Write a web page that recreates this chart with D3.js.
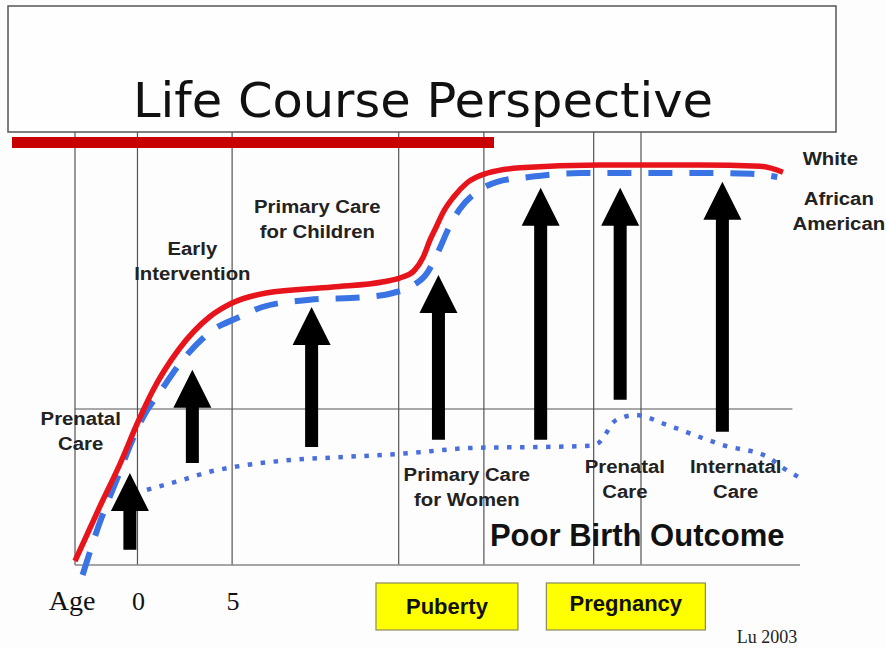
<!DOCTYPE html>
<html>
<head>
<meta charset="utf-8">
<script src="https://cdn.jsdelivr.net/npm/d3@7"></script>
<style>
  html, body { margin: 0; padding: 0; background: #fdfdfd; }
  svg { display: block; }
</style>
</head>
<body>
<div id="chart"></div>
<script>
// Curvas: edad (x) contra nivel de salud (y, 0..100)
const whiteAges = [-3.3, -2, -0.9, 0, 0.8, 2.2, 3.8, 5, 6.8, 10.3, 13, 13.9, 14.6, 15.1, 15.45, 15.8, 16.15, 16.7, 17.4, 18.5, 20.2, 24.4, 29.7, 32.9, 34.1];
const whiteVals = [1, 14.5, 25.5, 35.5, 43.5, 54, 62, 65.5, 68, 69.5, 70.8, 71.8, 73.5, 77, 81.2, 84.7, 88.2, 92, 95.5, 98, 99.3, 100, 100, 99.7, 98.2];

const blackAges = [-2.9, -2, -1.1, -0.2, 0.3, 1.2, 2.4, 4, 5.3, 6.6, 9.1, 12.1, 13.5, 14.6, 15.3, 15.6, 16, 16.4, 17, 18.1, 19, 20.7, 23.4, 29.7, 32.4, 33.8];
const blackVals = [-2.5, 10.5, 21.3, 32, 37, 43.3, 51.3, 58.8, 61.8, 64.5, 66.3, 67, 68, 70, 73, 75.5, 79.5, 83.8, 88.8, 93.8, 95.8, 97, 98, 98, 97.8, 97];

const poorAges = [0.5, 2.4, 3.8, 5.1, 8.2, 10.9, 13.9, 17.9, 21.3, 23.9, 24.3, 24.7, 25.1, 25.7, 26.3, 27, 27.7, 28.4, 29.7, 30.9, 33.3, 34.1, 35];
const poorVals = [18.8, 21.3, 23.3, 24.5, 26.3, 27, 27.8, 29.3, 29.5, 29.8, 30.3, 32.5, 35.5, 37, 37.5, 36.8, 35.5, 34.3, 32, 30, 27, 24.3, 21.8];

// Flechas (intervenciones): edad, base, punta
const arrowAges = [-0.4, 2.9, 9.2, 15.9, 21.3, 25.5, 30.9];
const arrowBase = [3.8, 25.5, 29.5, 31.3, 31.3, 41.3, 33.3];
const arrowTip  = [23, 48.8, 64.5, 72.5, 94.3, 94.3, 95.8];

// Rejilla y ejes
const gridAges = [-3.3, 0, 5, 13.8, 18.3, 24.1, 26.6];
const tickAges = [0, 5];
const tickLabels = ["0", "5"];

// Etapas
const stageNames = ["Puberty", "Pregnancy"];
const stageStart = [12.6, 21.6];
const stageEnd = [20.1, 30.0];

// Etiquetas de texto
const labelLines = [["Prenatal", "Care"], ["Early", "Intervention"], ["Primary Care", "for Children"],
  ["Primary Care", "for Women"], ["Prenatal", "Care"], ["Internatal", "Care"], ["White"], ["African", "American"]];
const labelAges = [-3.0, 2.9, 9.5, 17.4, 25.75, 31.6, 36.6, 37.05];
const labelVals = [35, 77.5, 88, 21, 23, 23, 100, 90];

const W = 886, H = 648;
const svg = d3.select("#chart").append("svg").attr("width", W).attr("height", H);

const x = d3.scaleLinear().domain([-3.3, 35]).range([75, 800]);
const y = d3.scaleLinear().domain([0, 100]).range([565, 165]);

// Rejilla
svg.append("g").selectAll("line").data(gridAges).enter().append("line")
  .attr("x1", d => x(d)).attr("x2", d => x(d))
  .attr("y1", 132).attr("y2", y(0))
  .attr("stroke", "#555").attr("stroke-width", 1.2);

svg.append("line").attr("x1", x(-3.3)).attr("x2", x(34.6)).attr("y1", y(39)).attr("y2", y(39))
  .attr("stroke", "#555").attr("stroke-width", 1.2);
svg.append("line").attr("x1", x(-3.3)).attr("x2", x(35)).attr("y1", y(0)).attr("y2", y(0))
  .attr("stroke", "#888").attr("stroke-width", 1.5);

// Titulo
svg.append("rect").attr("x", 8).attr("y", 6).attr("width", 828).attr("height", 126)
  .attr("fill", "#fefefe").attr("stroke", "#555").attr("stroke-width", 1.5);
svg.append("text").attr("x", 423).attr("y", 117)
  .attr("text-anchor", "middle")
  .attr("font-family", "DejaVu Sans, sans-serif").attr("font-size", 48)
  .attr("textLength", 580).attr("lengthAdjust", "spacingAndGlyphs")
  .attr("fill", "#111")
  .text("Life Course Perspective");
svg.append("rect").attr("x", 12).attr("y", 137).attr("width", 482).attr("height", 11)
  .attr("fill", "#c80000");

// Curvas
const line = d3.line().x(d => x(d[0])).y(d => y(d[1])).curve(d3.curveMonotoneX);

svg.append("path").datum(d3.zip(poorAges, poorVals)).attr("d", line)
  .attr("fill", "none").attr("stroke", "#4a6fdc").attr("stroke-width", 4.5)
  .attr("stroke-dasharray", "4.5,8.5");

svg.append("path").datum(d3.zip(blackAges, blackVals)).attr("d", line)
  .attr("fill", "none").attr("stroke", "#3a74e4").attr("stroke-width", 6)
  .attr("stroke-dasharray", "24,17");

svg.append("path").datum(d3.zip(whiteAges, whiteVals)).attr("d", line)
  .attr("fill", "none").attr("stroke", "#e8141c").attr("stroke-width", 5.5);

// Flechas
const shaftW = 13, headW = 38, headH = 38;
svg.append("g").selectAll("path").data(d3.range(arrowAges.length)).enter().append("path")
  .attr("d", i => {
    const cx = x(arrowAges[i]), yb = y(arrowBase[i]), yt = y(arrowTip[i]);
    const yh = yt + headH;
    return `M${cx - shaftW / 2},${yb}L${cx - shaftW / 2},${yh}L${cx - headW / 2},${yh}L${cx},${yt}` +
      `L${cx + headW / 2},${yh}L${cx + shaftW / 2},${yh}L${cx + shaftW / 2},${yb}Z`;
  })
  .attr("fill", "#000");

// Etiquetas
const lab = svg.append("g").attr("font-family", "Liberation Sans, Arial, sans-serif")
  .attr("font-weight", "bold").attr("font-size", 18).attr("fill", "#222");
labelLines.forEach((lines, i) => {
  lines.forEach((t, j) => {
    lab.append("text")
      .attr("transform", `translate(${x(labelAges[i])},${y(labelVals[i]) + j * 24.5}) scale(1.13,1)`)
      .attr("text-anchor", "middle").text(t);
  });
});

svg.append("text").attr("x", x(26.4)).attr("y", y(4.75))
  .attr("text-anchor", "middle")
  .attr("font-family", "Liberation Sans, Arial, sans-serif").attr("font-weight", "bold")
  .attr("font-size", 31).attr("fill", "#111")
  .text("Poor Birth Outcome");

// Eje de edad
const axisFont = "Liberation Serif, Times New Roman, serif";
svg.append("text").attr("x", 72).attr("y", 610).attr("text-anchor", "middle")
  .attr("font-family", axisFont).attr("font-size", 28).attr("fill", "#111").text("Age");
svg.append("g").selectAll("text").data(tickAges).enter().append("text")
  .attr("x", d => x(d) + 1).attr("y", 610).attr("text-anchor", "middle")
  .attr("font-family", axisFont).attr("font-size", 26).attr("fill", "#111")
  .text((d, i) => tickLabels[i]);

// Etapas
const st = svg.append("g").selectAll("g").data(stageNames).enter().append("g");
st.append("rect")
  .attr("x", (d, i) => x(stageStart[i])).attr("y", 583)
  .attr("width", (d, i) => x(stageEnd[i]) - x(stageStart[i])).attr("height", 47)
  .attr("fill", "#ffff00").attr("stroke", "#8a8a60").attr("stroke-width", 1.2);
st.append("text")
  .attr("x", (d, i) => (x(stageStart[i]) + x(stageEnd[i])) / 2)
  .attr("y", (d, i) => i === 0 ? 614 : 611)
  .attr("text-anchor", "middle")
  .attr("font-family", "Liberation Sans, Arial, sans-serif").attr("font-weight", "bold")
  .attr("font-size", 22).attr("fill", "#111")
  .text(d => d);

// Fuente
svg.append("text").attr("x", 767).attr("y", 643).attr("text-anchor", "middle")
  .attr("font-family", axisFont).attr("font-size", 18).attr("fill", "#222").text("Lu 2003");
</script>
</body>
</html>
